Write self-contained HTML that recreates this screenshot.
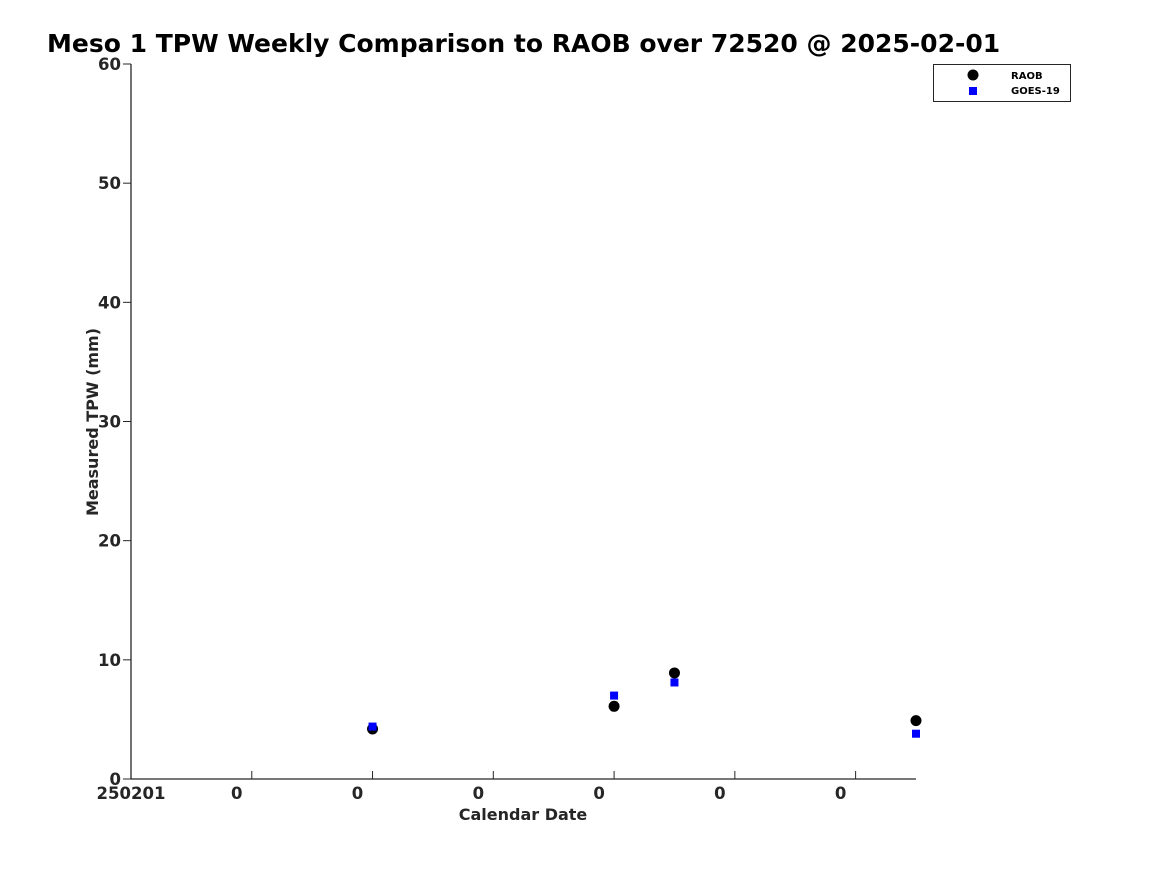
<!DOCTYPE html>
<html><head><meta charset="utf-8"><style>
body{margin:0;background:#fff;}
svg text{font-family:"DejaVu Sans","Liberation Sans",sans-serif;font-weight:bold;fill:#262626;}
</style></head><body>
<svg id="chart" width="1167" height="875" xmlns="http://www.w3.org/2000/svg">
<text x="47" y="52" font-size="25" style="fill:#000">Meso 1 TPW Weekly Comparison to RAOB over 72520 @ 2025-02-01</text>
<g id="axes"></g>
<g id="marks"></g>
<text x="523" y="820" font-size="16" text-anchor="middle">Calendar Date</text>
<text transform="translate(98,422) rotate(-90)" font-size="16" text-anchor="middle">Measured TPW (mm)</text>
<g>
<rect x="933.5" y="64.5" width="137" height="37" fill="#fff" stroke="#262626" stroke-width="1"/>
<circle cx="973" cy="75" r="5.5" fill="#000"/>
<rect x="969" y="87" width="8" height="8" fill="#0000ff"/>
<text x="1011" y="79" font-size="10" style="fill:#000">RAOB</text>
<text x="1011" y="94" font-size="10" style="fill:#000">GOES-19</text>
</g>
</svg>
<script>
const xTicks=[0,1,2,3,4,5,6];
const xTickLabels=["250201","0","0","0","0","0","0"];
const yTicks=[0,10,20,30,40,50,60];
const raobX=[2,4,4.5,6.5];
const raobY=[4.2,6.1,8.9,4.9];
const goesX=[2,4,4.5,6.5];
const goesY=[4.4,7.0,8.1,3.8];
const X0=131,X1=916,Y0=779,Y1=64,XMAX=6.5,YMAX=60;
const sx=v=>X0+(X1-X0)*v/XMAX;
const sy=v=>Y0-(Y0-Y1)*v/YMAX;
const NS="http://www.w3.org/2000/svg";
const axes=document.getElementById('axes'),marks=document.getElementById('marks');
function mk(tag,attrs,parent){const e=document.createElementNS(NS,tag);for(const k in attrs)e.setAttribute(k,attrs[k]);parent.appendChild(e);return e;}
let l=mk('line',{x1:X0,y1:Y1,x2:X0,y2:Y0+0.5,stroke:'#262626','stroke-width':1.3},axes);


l=mk('line',{x1:X0,y1:Y0,x2:X1,y2:Y0,stroke:'#262626','stroke-width':1.3},axes);


yTicks.forEach(v=>{
 const t=mk('line',{x1:X0-8,x2:X0,y1:sy(v),y2:sy(v),stroke:'#262626','stroke-width':1},axes);
 
 
 const tx=mk('text',{x:X0-10,y:sy(v)+6,'font-size':16.5,'text-anchor':'end'},axes);
 tx.textContent=v;
 
 
});
xTicks.forEach((v,i)=>{
 if(i>0){const t=mk('line',{x1:sx(v),x2:sx(v),y1:Y0-8,y2:Y0,stroke:'#262626','stroke-width':1},axes);
 
 }
 const tx=mk('text',{x:i===0?sx(v):sx(v)-15,y:799,'font-size':16.5,'text-anchor':'middle'},axes);
 tx.textContent=xTickLabels[i];
 
 
});
raobX.forEach((v,i)=>{
 const c=mk('circle',{cx:sx(v),cy:sy(raobY[i]),r:5.5,fill:'#000'},marks);
 
 
});
goesX.forEach((v,i)=>{
 const r=mk('rect',{x:sx(v)-4,y:sy(goesY[i])-4,width:8,height:8,fill:'#0000ff'},marks);
 
 
});
</script>
</body></html>
